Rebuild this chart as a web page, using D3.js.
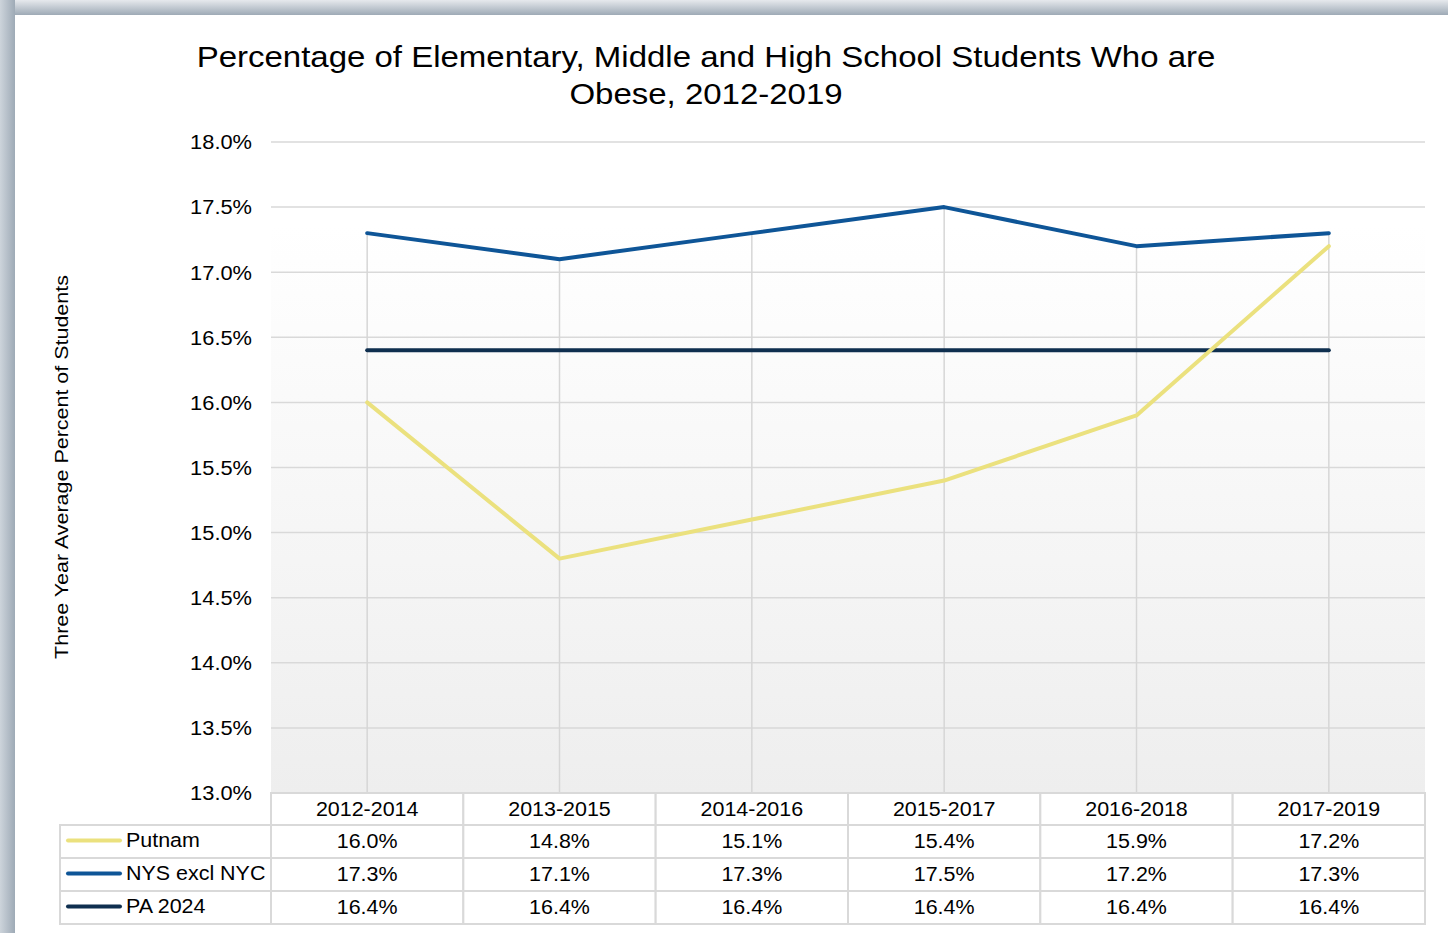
<!DOCTYPE html>
<html><head><meta charset="utf-8">
<script src="https://cdn.jsdelivr.net/npm/d3@7"></script>
<style>html,body{margin:0;padding:0;background:#fff;}svg{display:block;font-family:"Liberation Sans",Arial,sans-serif;}</style>
</head><body>
<script>
const categories = ["2012-2014","2013-2015","2014-2016","2015-2017","2016-2018","2017-2019"];
const seriesNames = ["Putnam","NYS excl NYC","PA 2024"];
const putnam = [16.0,14.8,15.1,15.4,15.9,17.2];
const nys = [17.3,17.1,17.3,17.5,17.2,17.3];
const pa = [16.4,16.4,16.4,16.4,16.4,16.4];
const seriesColors = ["#ebe17e","#0e5597","#0f2f4f"];
const yTicks = [13.0,13.5,14.0,14.5,15.0,15.5,16.0,16.5,17.0,17.5,18.0];
const titleLines = ["Percentage of Elementary, Middle and High School Students Who are","Obese, 2012-2019"];
const yTitle = "Three Year Average Percent of Students";

const series = [putnam, nys, pa];
const W = 1448, H = 933;
const svg = d3.select("body").append("svg").attr("width", W).attr("height", H);
const defs = svg.append("defs");
const gl = defs.append("linearGradient").attr("id","leftB").attr("x1","0").attr("x2","1").attr("y1","0").attr("y2","0");
gl.append("stop").attr("offset","0").attr("stop-color","#cdd4db");
gl.append("stop").attr("offset","1").attr("stop-color","#9eaab6");
const gt = defs.append("linearGradient").attr("id","topB").attr("x1","0").attr("x2","0").attr("y1","0").attr("y2","1");
gt.append("stop").attr("offset","0").attr("stop-color","#e6e9ed");
gt.append("stop").attr("offset","1").attr("stop-color","#9eaab6");
const gp = defs.append("linearGradient").attr("id","plotG").attr("x1","0").attr("x2","0").attr("y1","0").attr("y2","1");
gp.append("stop").attr("offset","0").attr("stop-color","#ffffff");
gp.append("stop").attr("offset","1").attr("stop-color","#eeeeee");

// horizontally stretched text helper
function stext(g, xx, yy, str, size, sx, anchor) {
  return g.append("text").attr("transform",`translate(${xx},${yy}) scale(${sx},1)`)
    .attr("text-anchor",anchor||"start").attr("dy","0.35em").attr("font-size",size).attr("fill","#000").text(str);
}

// frame
svg.append("rect").attr("x",0).attr("y",0).attr("width",W).attr("height",15).attr("fill","url(#topB)");
svg.append("rect").attr("x",0).attr("y",0).attr("width",15).attr("height",H).attr("fill","url(#leftB)");

const x0 = 271, x1 = 1425, yTop = 142, yBot = 793;
const x = d3.scaleBand().domain(categories).range([x0, x1]);
const y = d3.scaleLinear().domain([13, 18]).range([yBot, yTop]);

// plot background gradient
svg.append("rect").attr("x",x0).attr("y",y(17.35)).attr("width",x1-x0).attr("height",yBot-y(17.35)).attr("fill","url(#plotG)");

// title
const tg0 = svg.append("g");
titleLines.forEach((t,i)=>stext(tg0, 706, 56+i*37, t, 30, 1.1, "middle"));

// gridlines
svg.append("g").selectAll("line").data(yTicks).join("line")
  .attr("x1",x0).attr("x2",x1).attr("y1",d=>y(d)).attr("y2",d=>y(d))
  .attr("stroke","#d9d9d9").attr("stroke-width",1.5);

// y axis labels
const sxT = 1.12;
const yAxis = d3.axisLeft(y).tickValues(yTicks).tickFormat(d=>d.toFixed(1)+"%").tickSize(0).tickPadding(19);
const ya = svg.append("g").attr("transform",`translate(${x0},0)`).call(yAxis);
ya.select(".domain").remove();
ya.selectAll("text").attr("font-size",19.5).attr("fill","#000").attr("font-family","Liberation Sans, Arial, sans-serif")
  .attr("dy","0.35em").attr("x",-19/sxT).attr("transform",`scale(${sxT},1)`);

// y title
svg.append("text").attr("transform","translate(68,467) rotate(-90) scale(1.13,1)").attr("text-anchor","middle")
  .attr("font-size",19).attr("fill","#000").text(yTitle);

// drop lines
const cx = c => x(c) + x.bandwidth()/2;
svg.append("g").selectAll("line").data(categories).join("line")
  .attr("x1",cx).attr("x2",cx).attr("y1",(c,i)=>y(d3.max(series,s=>s[i]))).attr("y2",yBot)
  .attr("stroke","#d6d6d6").attr("stroke-width",1.5);

// lines
const line = d3.line().x((d,i)=>cx(categories[i])).y(d=>y(d));
[2,0,1].forEach(k=>{
  svg.append("path").datum(series[k]).attr("d",line).attr("fill","none")
    .attr("stroke",seriesColors[k]).attr("stroke-width",4).attr("stroke-linecap","round").attr("stroke-linejoin","round");
});

// data table
const rowH = 33, headTop = 793, headH = 32, sxB = 1.1, fsB = 19.5;
const tg = svg.append("g");
const bc = "#d9d9d9";
categories.forEach(c=>{
  tg.append("rect").attr("x",x(c)).attr("y",headTop).attr("width",x.bandwidth()).attr("height",headH)
    .attr("fill","#fff").attr("stroke",bc).attr("stroke-width",2);
  stext(tg, cx(c), headTop+headH/2, c, fsB, sxB, "middle");
});
seriesNames.forEach((nm,k)=>{
  const ry = headTop+headH + k*rowH;
  tg.append("rect").attr("x",60).attr("y",ry).attr("width",x0-60).attr("height",rowH)
    .attr("fill","#fff").attr("stroke",bc).attr("stroke-width",2);
  tg.append("line").attr("x1",68).attr("x2",120).attr("y1",ry+rowH/2-1).attr("y2",ry+rowH/2-1)
    .attr("stroke",seriesColors[k]).attr("stroke-width",4).attr("stroke-linecap","round");
  stext(tg, 126, ry+rowH/2-1, nm, fsB, sxB, "start");
  categories.forEach((c,i)=>{
    tg.append("rect").attr("x",x(c)).attr("y",ry).attr("width",x.bandwidth()).attr("height",rowH)
      .attr("fill","#fff").attr("stroke",bc).attr("stroke-width",2);
    stext(tg, cx(c), ry+rowH/2, series[k][i].toFixed(1)+"%", fsB, sxB, "middle");
  });
});
</script>
</body></html>
